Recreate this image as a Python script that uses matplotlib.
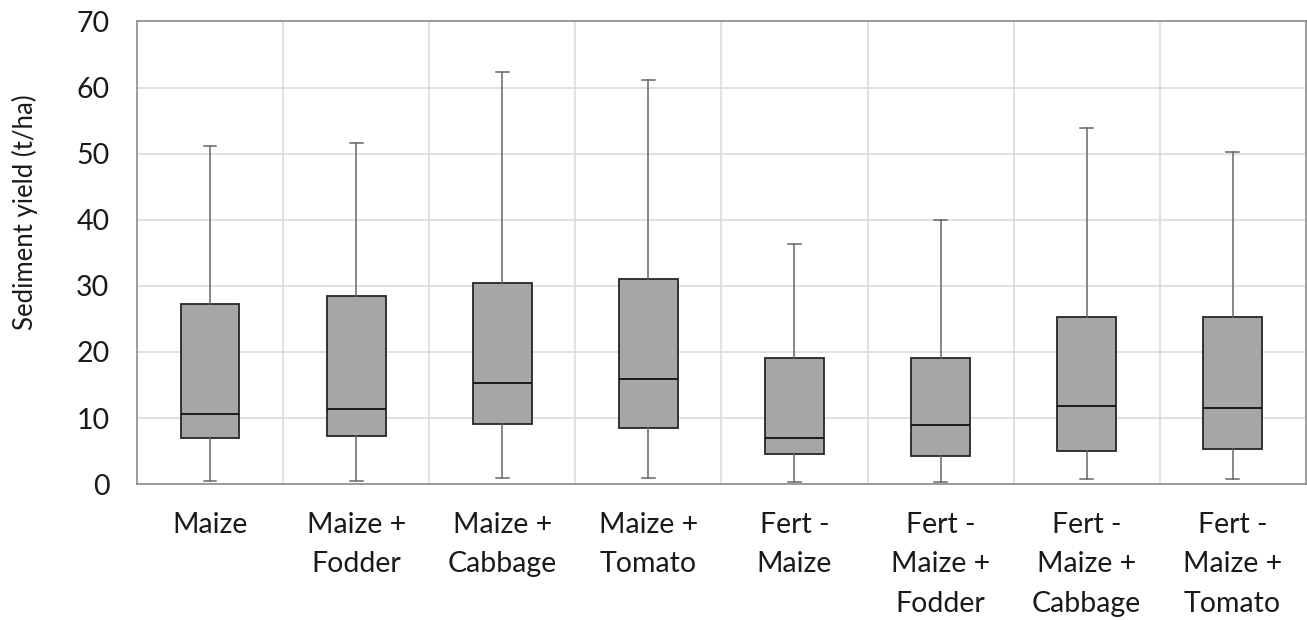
import matplotlib
matplotlib.use("Agg")
import matplotlib.pyplot as plt

categories = ["Maize", "Maize +\nFodder", "Maize +\nCabbage", "Maize +\nTomato",
              "Fert -\nMaize", "Fert -\nMaize +\nFodder", "Fert -\nMaize +\nCabbage",
              "Fert -\nMaize +\nTomato"]
whisker_low = [0.55, 0.55, 0.9, 0.9, 0.35, 0.35, 0.75, 0.75]
q1 = [7.0, 7.35, 9.05, 8.5, 4.6, 4.2, 5.0, 5.4]
median = [10.6, 11.4, 15.3, 15.9, 7.0, 8.9, 11.8, 11.6]
q3 = [27.2, 28.5, 30.4, 31.0, 19.1, 19.1, 25.3, 25.3]
whisker_high = [51.2, 51.6, 62.4, 61.1, 36.4, 39.9, 53.9, 50.2]
yticks = [0, 10, 20, 30, 40, 50, 60, 70]

plt.rcParams['font.family'] = ['Lato', 'DejaVu Sans']

fig = plt.figure(figsize=(13.07, 6.2), dpi=100)
ax = fig.add_axes([0.105, 0.219, 0.894, 0.7465])

stats = []
for i in range(len(categories)):
    stats.append(dict(med=median[i], q1=q1[i], q3=q3[i],
                      whislo=whisker_low[i], whishi=whisker_high[i], fliers=[]))

positions = list(range(len(categories)))
ax.bxp(stats, positions=positions, widths=0.40, patch_artist=True, showfliers=False,
       boxprops=dict(facecolor="#a6a6a6", edgecolor="#262626", linewidth=1.3),
       medianprops=dict(color="#1a1a1a", linewidth=1.4),
       whiskerprops=dict(color="#666666", linewidth=1.1),
       capprops=dict(color="#666666", linewidth=1.1),
       capwidths=0.085)

ax.set_xlim(-0.5, len(categories) - 0.5)
ax.set_ylim(0, 70)
ax.set_yticks(yticks)
ax.set_yticklabels([str(v) for v in yticks], fontsize=20.5, color="#1a1a1a")
ax.set_xticks(positions)
ax.set_xticklabels(categories, fontsize=20.5, color="#1a1a1a", linespacing=1.64,
                   va="top")
ax.set_xticks([p + 0.5 for p in positions[:-1]], minor=True)
ax.tick_params(axis="y", length=0, pad=20)
ax.tick_params(axis="x", which="both", length=0, pad=20)
ax.grid(True, axis="y", color="#d9d9d9", linewidth=1.1)
ax.grid(True, axis="x", which="minor", color="#d9d9d9", linewidth=1.1)
ax.set_axisbelow(True)
for s in ax.spines.values():
    s.set_color("#8c8c8c")
    s.set_linewidth(1.2)

ax.set_ylabel("Sediment yield (t/ha)", fontsize=18.5, color="#1a1a1a")
ax.yaxis.set_label_coords(-0.096, 0.588)
ax.yaxis.label.set_va("center")

fig.savefig("out.png", dpi=100)
